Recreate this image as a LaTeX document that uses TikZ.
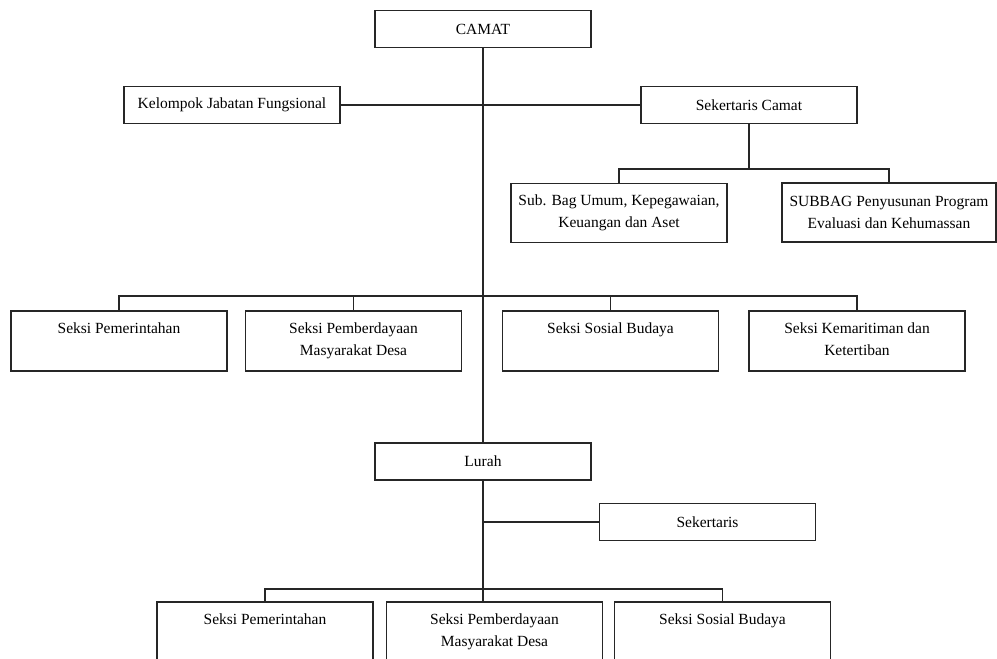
\documentclass[tikz,border=0pt]{standalone}
\usepackage{fontspec}
\setmainfont{Liberation Serif}
\tikzset{
  unit/.style={draw=black!85,line width=1.2pt,minimum width=216pt,inner sep=0pt,align=center,font=\fontsize{15.5}{22}\selectfont},
  headbox/.style={unit,minimum height=37pt},
  subbox/.style={unit,minimum height=59pt},
  sekbox/.style={unit,text height=22pt,text depth=38pt},
  sekboxii/.style={unit,text height=44pt,text depth=16pt},
  link/.style={line width=1.1pt,black!85}
}
\begin{document}
\begin{tikzpicture}[x=1pt,y=-1pt]
\useasboundingbox (0,0) rectangle (997,659);
\clip (0,0) rectangle (997,659);
\node[headbox](camat) at (483,29) {CAMAT};
\node[headbox](kjf) at (232,105) {Kelompok Jabatan Fungsional};
\node[headbox](sekcam) at (749,105) {Sekertaris Camat};
\node[subbox](sb1) at (619,213) {Sub. Bag Umum, Kepegawaian,\\Keuangan dan Aset};
\node[subbox,minimum width=214pt](sb2) at (889,212.5) {SUBBAG Penyusunan Program\\Evaluasi dan Kehumassan};
\node[sekbox](r1) at (119,341) {Seksi Pemerintahan};
\node[sekboxii](r2) at (353.5,341) {Seksi Pemberdayaan\\Masyarakat Desa};
\node[sekbox](r3) at (610.5,341) {Seksi Sosial Budaya};
\node[sekboxii](r4) at (857,341) {Seksi Kemaritiman dan\\Ketertiban};
\node[headbox](lurah) at (483,461.5) {Lurah};
\node[headbox](skr) at (707.5,522) {Sekertaris};
\node[sekbox](l1) at (265,632) {Seksi Pemerintahan};
\node[sekboxii](l2) at (494.5,632) {Seksi Pemberdayaan\\Masyarakat Desa};
\node[sekbox](l3) at (722.5,632) {Seksi Sosial Budaya};
\coordinate (bar1) at (749,169);
\coordinate (bar2) at (483,296);
\coordinate (tap) at (483,522);
\coordinate (bar3) at (483,589);
\draw[link](camat)--(lurah);
\draw[link](kjf)--(sekcam);
\draw[link](sekcam)--(bar1);
\draw[link](sb1.north)|-(bar1)-|(sb2.north);
\draw[link](r1.north)|-(bar2)-|(r4.north);
\draw[link](r2.north)--(r2.north|-bar2)
(r3.north)--(r3.north|-bar2);
\draw[link](tap)--(skr);
\draw[link](lurah.south)--(lurah.south|-l2.north);
\draw[link](l1.north)|-(bar3)-|(l3.north);
\end{tikzpicture}
\end{document}
